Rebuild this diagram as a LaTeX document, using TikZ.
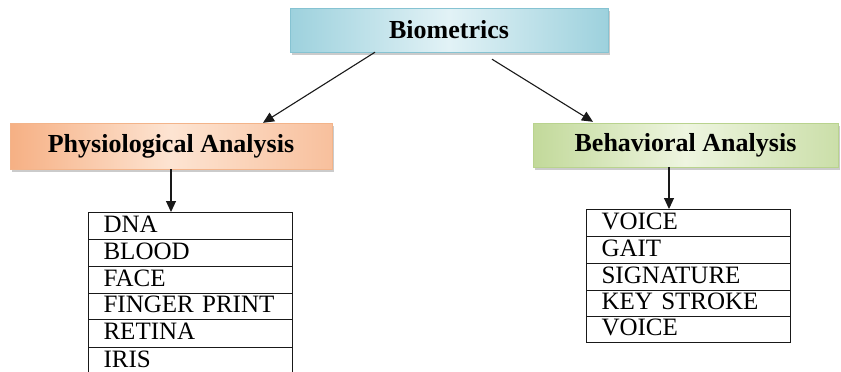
\documentclass[tikz,border=0pt]{standalone}
\usepackage{fontspec}
\setmainfont{Liberation Serif}
\usetikzlibrary{arrows.meta,shadows}
\definecolor{bioL}{HTML}{9DD1DD}
\definecolor{bioM}{HTML}{E2F2F6}
\definecolor{bioB}{HTML}{86C3D2}
\definecolor{phyL}{HTML}{F6B084}
\definecolor{phyM}{HTML}{FDE4D2}
\definecolor{phyB}{HTML}{F3B48A}
\definecolor{behL}{HTML}{C2D99A}
\definecolor{behM}{HTML}{EEF5E0}
\definecolor{behB}{HTML}{B9D38E}
\tikzset{
  head/.style={rectangle, inner sep=0pt, font=\fontsize{26}{30}\selectfont\bfseries,
    drop shadow={shadow xshift=2pt, shadow yshift=-3pt, fill=black!45, opacity=0.45}},
  row/.style={rectangle, draw=black!90, line width=1.1pt, anchor=north west, inner ysep=0pt,
    inner xsep=15pt, minimum width=204pt, text width=174pt, align=left, font=\fontsize{25}{28}\selectfont,
    text height=17pt, text depth=5pt},
  arr/.style={-{Triangle[length=11pt,width=10pt]}, line width=1.1pt, black!90},
}
\begin{document}
\begin{tikzpicture}[x=1pt,y=-1pt]
\useasboundingbox (0,0) rectangle (841,372);
% headings
\node[head, draw=bioB, minimum width=318pt, minimum height=44pt,
  shading=axis, left color=bioL, right color=bioL, middle color=bioM] (bio) at (449,30) {Biometrics};
\node[head, draw=phyB, minimum width=322pt, minimum height=46pt,
  shading=axis, left color=phyL, right color=phyL!80!white, middle color=phyM] (phys) at (171,146) {Physiological Analysis};
\node[head, draw=behB, minimum width=305pt, minimum height=44pt,
  shading=axis, left color=behL, right color=behL!85!white, middle color=behM] (beh) at (685.5,145) {Behavioral Analysis};
% left list
\node[row, minimum height=27pt] (dna) at (88,212) {DNA};
\node[row, minimum height=27pt] (blood) at (88,239) {BLOOD};
\node[row, minimum height=27pt] (face) at (88,266) {FACE};
\node[row, minimum height=26pt] (finger) at (88,293) {FINGER PRINT};
\node[row, minimum height=28pt] (retina) at (88,319) {RETINA};
\node[row, minimum height=28pt] (iris) at (88,347) {IRIS};
% right list
\node[row, minimum height=27pt] (v1) at (586,209) {VOICE};
\node[row, minimum height=27pt] (gait) at (586,236) {GAIT};
\node[row, minimum height=27pt] (sig) at (586,263) {SIGNATURE};
\node[row, minimum height=26pt] (key) at (586,290) {KEY STROKE};
\node[row, minimum height=26pt] (v2) at (586,316) {VOICE};
% arrows
\draw[arr] ([xshift=-74pt]bio.south) -- ([xshift=92pt]phys.north);
\draw[arr] ([xshift=43pt,yshift=-7pt]bio.south) -- ([xshift=-92.5pt,yshift=1pt]beh.north);
\draw[arr] (phys.south) -- (phys.south |- dna.north);
\draw[arr] ([xshift=-16.5pt]beh.south) -- ([xshift=-16.5pt]beh.south |- v1.north);
\end{tikzpicture}
\end{document}
